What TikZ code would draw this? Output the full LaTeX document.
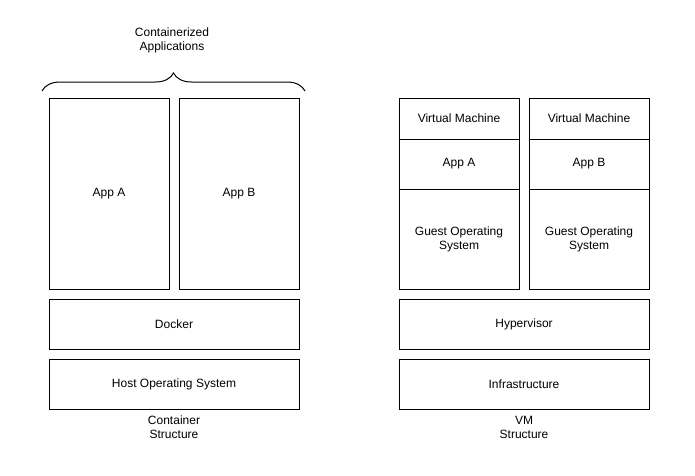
\documentclass[tikz,border=0pt]{standalone}
\usepackage{fontspec}
\setmainfont{Liberation Sans}
\usepackage{tikz}
\usetikzlibrary{positioning}
\usetikzlibrary{decorations.pathreplacing}

\tikzset{
  layer/.style={draw, line width=1pt, inner sep=0pt, outer sep=0pt, align=center,
    font=\fontsize{12}{14}\selectfont},
  caption/.style={align=center, inner sep=0pt, font=\fontsize{12}{14}\selectfont},
}

\begin{document}
\begin{tikzpicture}[x=1pt,y=-1pt]
  \useasboundingbox (0,0) rectangle (695,475);
  \def\colwidth{120pt}
  \def\fullwidth{250pt}
  \def\gap{10pt}
  \def\layerheight{50pt}

  % Container structure
  \node[layer, anchor=north west, minimum width=\colwidth, minimum height=191pt] (appA) at (49,98) {App A};
  \node[layer, right=\gap of appA, minimum width=\colwidth, minimum height=191pt] (appB) {App B};
  \node[layer, below=\gap of appA.south west, anchor=north west, minimum width=\fullwidth, minimum height=\layerheight] (docker) {Docker};
  \node[layer, below=\gap of docker, minimum width=\fullwidth, minimum height=\layerheight] (hostos) {Host Operating System};
  \node[caption, below=7pt of hostos] (ccap) {Container\\Structure};

  % brace over the apps
  \coordinate (braceL) at (42,91);
  \coordinate (braceR) at (305,91);
  \draw[line width=1pt, decorate, decoration={brace, amplitude=18pt}] (braceL) -- (braceR);
  \node[caption] (apps) at (172,40) {Containerized\\Applications};

  % VM structure
  \node[layer, anchor=north west, minimum width=\colwidth, minimum height=41pt] (vmA) at (399,98) {Virtual Machine};
  \node[layer, below=0pt of vmA, minimum width=\colwidth, minimum height=50pt] (vappA) {App A};
  \node[layer, below=0pt of vappA, minimum width=\colwidth, minimum height=100pt] (guestA) {Guest Operating\\System};

  \node[layer, right=\gap of vmA, minimum width=\colwidth, minimum height=41pt] (vmB) {Virtual Machine};
  \node[layer, below=0pt of vmB, minimum width=\colwidth, minimum height=50pt] (vappB) {App B};
  \node[layer, below=0pt of vappB, minimum width=\colwidth, minimum height=100pt] (guestB) {Guest Operating\\System};

  \node[layer, below=\gap of guestA.south west, anchor=north west, minimum width=\fullwidth, minimum height=\layerheight] (hyper) {Hypervisor};
  \node[layer, below=\gap of hyper, minimum width=\fullwidth, minimum height=\layerheight] (infra) {Infrastructure};
  \node[caption, below=7pt of infra] (vcap) {VM\\Structure};

\end{tikzpicture}
\end{document}
